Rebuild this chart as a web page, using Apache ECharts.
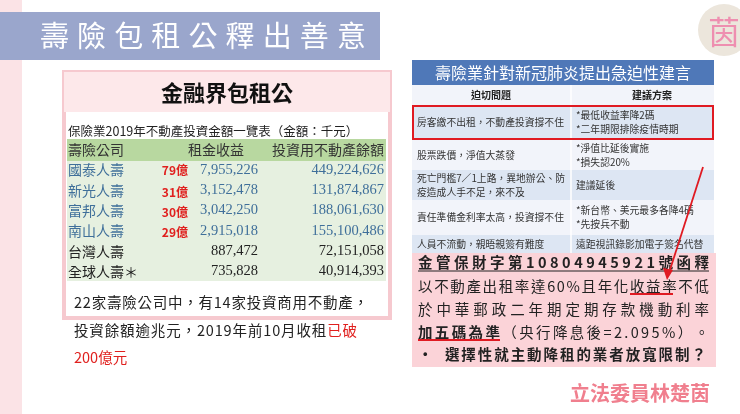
<!DOCTYPE html>
<html><head><meta charset="utf-8">
<script src="https://cdn.jsdelivr.net/npm/echarts@6/dist/echarts.min.js"></script>
<style>html,body{margin:0;padding:0;background:#fff}#c{width:740px;height:414px}</style>
</head><body><div id="c"></div>
<script>
var companies=['國泰人壽','新光人壽','富邦人壽','南山人壽','台灣人壽','全球人壽＊'];
var rentIncome=['7,955,226','3,152,478','3,042,250','2,915,018','887,472','735,828'];
var holdings=['449,224,626','131,874,867','188,061,630','155,100,486','72,151,058','40,914,393'];
var rentLabels=['79億','31億','30億','29億','',''];
var issues=['房客繳不出租，不動產投資撐不住','股票跌價，淨值大蒸發','死亡門檻7／1上路，異地辦公、防\n疫造成人手不足，來不及','責任準備金利率太高，投資撐不住','人員不流動，親晤親簽有難度'];
var proposals=['*最低收益率降2碼\n*二年期限排除疫情時期','*淨值比延後實施\n*損失認20%','建議延後','*新台幣、美元最多各降4碼\n*先按兵不動','遠距視訊錄影加電子簽名代替'];
var F='"Noto Sans CJK TC","Noto Sans CJK SC",sans-serif';
var g=[];
var mctx=document.createElement('canvas').getContext('2d');
function R(x,y,w,h,fill,stroke,lw){g.push({type:'rect',shape:{x:x,y:y,width:w,height:h},style:{fill:fill||'none',stroke:stroke||null,lineWidth:lw||0}});}
function fontOf(o){return (o.b?'bold ':'')+(o.s||12)+'px '+(o.f||F);}
function T(x,y,t,o){o=o||{};g.push({type:'text',x:x,y:y,z:10,style:{text:t,font:fontOf(o),fill:o.c||'#222',align:o.a||'left',verticalAlign:'middle',lineHeight:o.lh||null}});}
function L(pts,c,w){g.push({type:'polyline',z:11,shape:{points:pts},style:{stroke:c,lineWidth:w||1.5}});}
function S(x0,x1,y,str,o){mctx.font=fontOf(o);var ch=Array.from(str),ws=ch.map(function(c){return mctx.measureText(c).width;});var W=ws.reduce(function(a,b){return a+b;},0);var gap=(x1-x0-W)/(ch.length-1);var x=x0;ch.forEach(function(c,i){var oo=Object.assign({},o);oo.a='left';if(o.red!=null&&i>=o.red)oo.c='#e0201e';if(o.boldTo!=null)oo.b=i<o.boldTo;T(x,y,c,oo);x+=ws[i]+gap;});}
R(0,0,22,414,'#fbe3e6');
R(0,12,380,48,'#9aa6cc');
S(40,366,36,'壽險包租公釋出善意',{s:29,c:'#fff'});
g.push({type:'circle',shape:{cx:724,cy:30,r:26},style:{fill:'#ece6dc'}});
T(724,32,'茵',{s:32,c:'#ee8fb0',a:'center'});
R(62,70,330,250,'#f6c9cf');
R(66,112,322,204,'#fff');
R(64,72,326,40,'#fde8ea');
T(227,93,'金融界包租公',{s:22,c:'#111',b:true,a:'center'});
T(68,131,'保險業2019年不動產投資金額一覽表（金額：千元）',{s:12.5,c:'#222'});
R(67,139,319,22,'#b8d8a0');
R(67,161,319,120,'#e6f0e0');
T(68,150,'壽險公司',{s:14,c:'#333'});
T(244,150,'租金收益',{s:14,c:'#333',a:'right'});
T(384,150,'投資用不動產餘額',{s:14,c:'#333',a:'right'});
companies.forEach(function(n,i){
  var y=170+i*20.3, blue=i<4, c=blue?'#3f6f9a':'#222';
  T(68,y,n,{s:14,c:c});
  if(rentLabels[i])T(188,y+(i==0?0:2),rentLabels[i],{s:12,c:'#e0201e',b:true,a:'right'});
  T(258,y,rentIncome[i],{s:14.5,c:c,a:'right',f:'"Liberation Serif",serif'});
  T(384,y,holdings[i],{s:14.5,c:c,a:'right',f:'"Liberation Serif",serif'});
});
S(74,368,302,'22家壽險公司中，有14家投資商用不動產，',{s:14.5});
S(74,357,330,'投資餘額逾兆元，2019年前10月收租已破',{s:14.5,red:19});
T(74,357,'200億元',{s:14.5,c:'#e0201e'});
R(412,60,302,25,'#4f78b8');
T(563,73,'壽險業針對新冠肺炎提出急迫性建言',{s:16,c:'#fff',a:'center'});
R(412,85,302,20,'#f2f4fa');
T(491,95,'迫切問題',{s:10,b:true,a:'center'});
T(652,95,'建議方案',{s:10,b:true,a:'center'});
var rowY=[105,140,170,200,235,254], fills=['#dde6f3','#f2f4fa','#dde6f3','#f2f4fa','#dde6f3'];
issues.forEach(function(s,i){
  R(412,rowY[i],302,rowY[i+1]-rowY[i],fills[i]);
  var cy=(rowY[i]+rowY[i+1])/2;
  T(417,cy,s,{s:9.8,c:'#333',lh:14});
  T(576,cy,proposals[i],{s:9.8,c:'#333',lh:14});
});
g.push({type:'line',shape:{x1:571,y1:85,x2:571,y2:254},style:{stroke:'#fff',lineWidth:1.5}});
R(413,106,300,33,'none','#e01a22',2);
R(412,253,304,114,'#fbd3d8');
S(418,709,262,'金管保財字第10804945921號函釋',{s:14.5,b:true});
S(418,709,286,'以不動產出租率達60%且年化收益率不低',{s:14.5});
S(418,709,309,'於中華郵政二年期定期存款機動利率',{s:14.5});
S(418,709,332,'加五碼為準（央行降息後=2.095%）。',{s:14.5,boldTo:5});
S(418,706,354,'•  選擇性就主動降租的業者放寬限制？',{s:14.5,b:true});
L([[418,271],[709,271]],'#222',1);
L([[630,294],[673,294]],'#e01a22',2);
L([[418,340],[500,340]],'#e01a22',2);
L([[703,167],[668,276]],'#e01a22',1.8);
g.push({type:'polygon',z:12,shape:{points:[[667,280],[663,268],[673,270]]},style:{fill:'#e01a22'}});
T(640,393,'立法委員林楚茵',{s:20,c:'#f07f8e',b:true,a:'center'});
var ch=echarts.init(document.getElementById('c'));
ch.setOption({animation:false,graphic:g});
</script></body></html>
